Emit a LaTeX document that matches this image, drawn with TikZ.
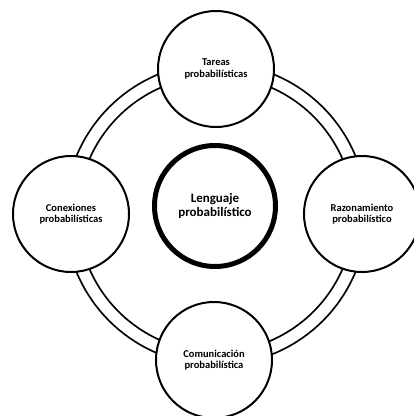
\documentclass[tikz,border=0pt]{standalone}
\usepackage{fontspec}
\setmainfont{Carlito}
\usetikzlibrary{positioning}

\tikzset{
  topic/.style={draw, black, line width=2pt, fill=white, circle, minimum size=116pt, inner sep=0pt, align=center, font=\bfseries\fontsize{10.5}{11.5}\selectfont},
  core/.style={draw, black, line width=5pt, fill=white, circle, minimum size=121pt, inner sep=0pt, align=center, font=\bfseries\fontsize{13}{14}\selectfont}
}

\begin{document}
\begin{tikzpicture}[x=10pt,y=10pt]
\useasboundingbox (-21.6,-20.2) rectangle (19.8,21.4);
%ring
\draw[black, line width=1.8pt, double=white, double distance=11.2pt] (0,0) circle (14.45);
%outer nodes
\node[topic] (tareas) at (0,14.5) {Tareas\\probabilísticas};
\node[topic] (conexiones) at (-14.5,0) {Conexiones\\probabilísticas};
\node[topic] (razonamiento) at (14.6,0) {Razonamiento\\probabilístico};
\node[topic] (comunicacion) at (-0.2,-14.6) {Comunicación\\probabilística};
%center node
\node[core] (lenguaje) at (-0.1,0.8) {Lenguaje\\probabilístico};
\end{tikzpicture}
\end{document}
